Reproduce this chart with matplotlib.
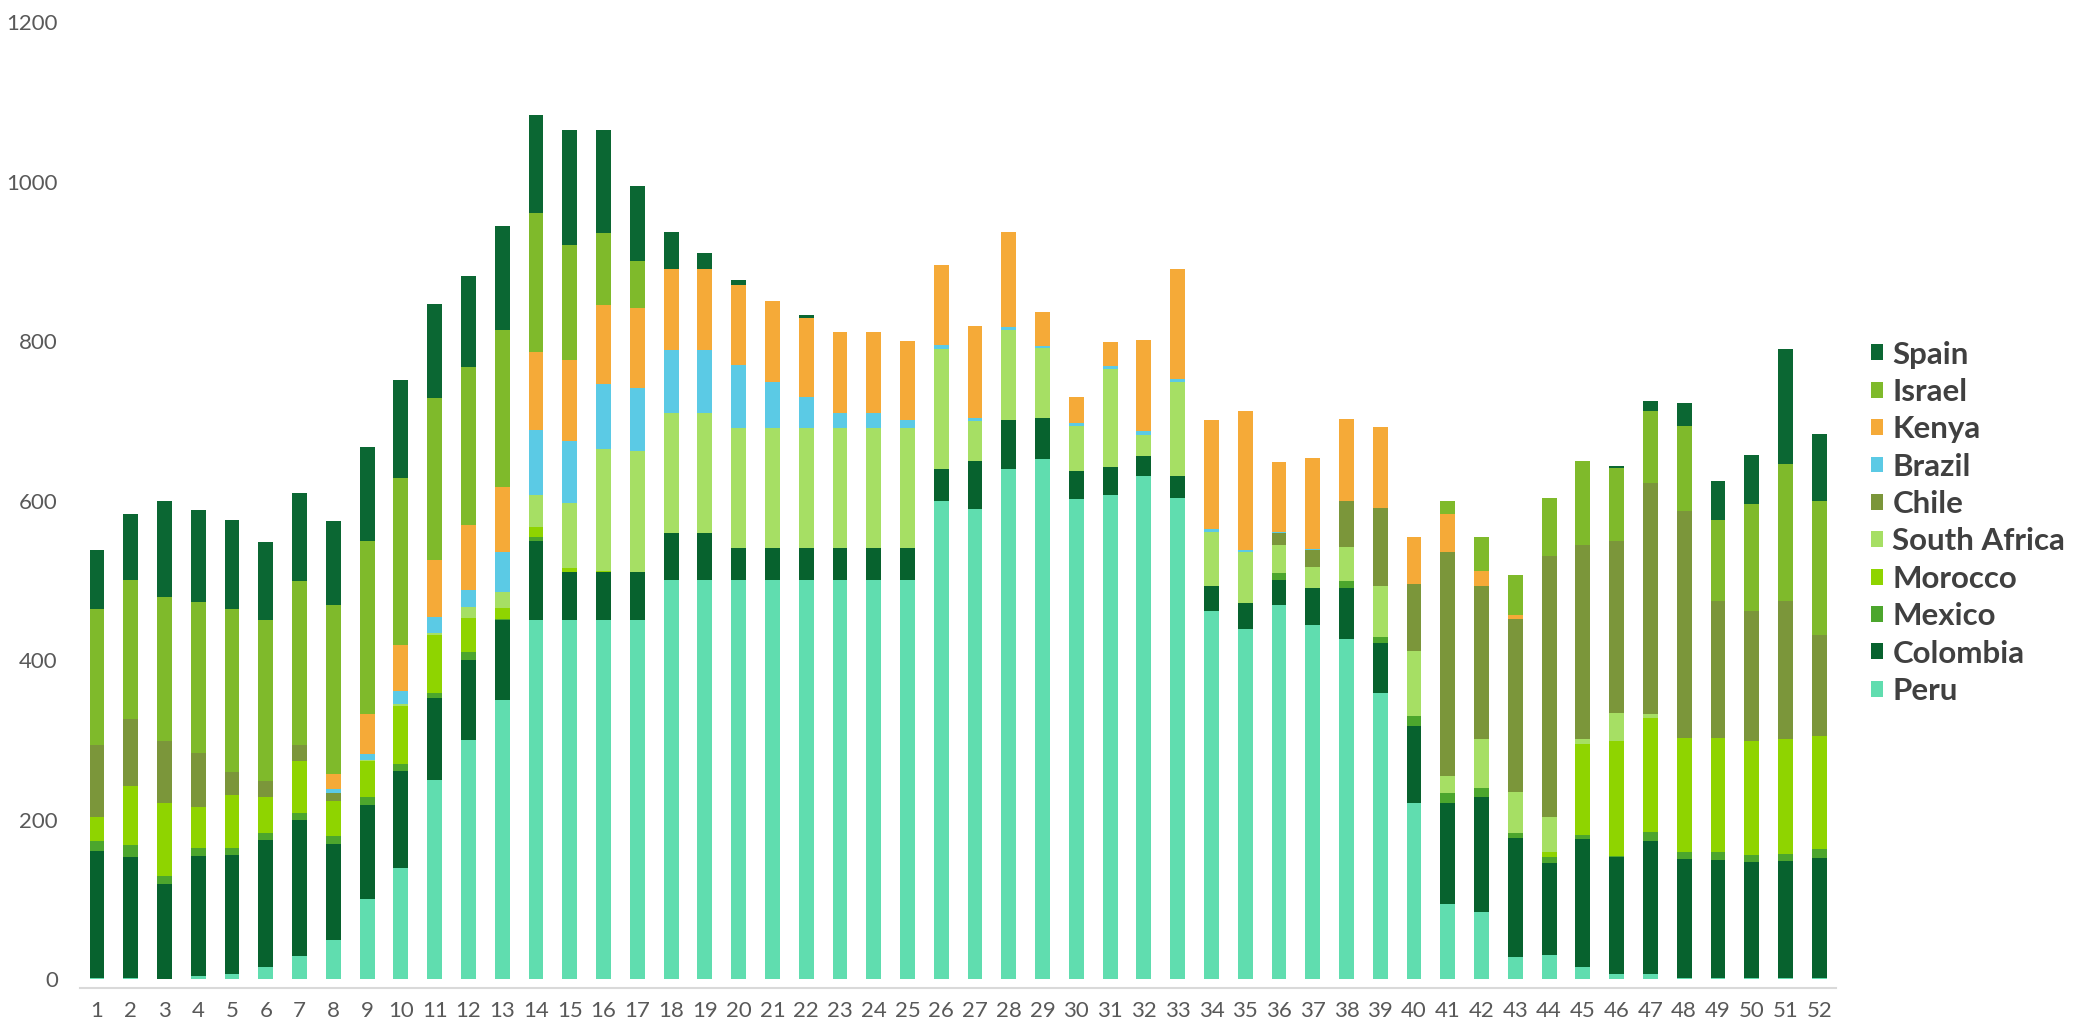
import matplotlib
matplotlib.use("Agg")
import matplotlib.pyplot as plt
import numpy as np

plt.rcParams["font.family"] = ["Lato", "DejaVu Sans"]

weeks = list(range(1, 53))

# values, week 1..52
peru = [1, 2, 0, 4, 6, 15, 29, 49, 100, 140, 250, 300, 350, 450, 450, 450, 450,
        500, 500, 500, 500, 500, 500, 500, 500, 600, 590, 640, 652, 602, 607, 631,
        603, 462, 439, 469, 444, 427, 359, 221, 94, 84, 28, 31, 15, 6, 6, 2, 2, 2, 1, 2]
colombia = [160, 151, 120, 150, 150, 159, 171, 120, 119, 121, 102, 100, 100, 100, 60, 60,
            60, 59, 59, 40, 40, 40, 40, 40, 40, 40, 60, 61, 51, 35, 35, 25, 28, 31, 33,
            31, 47, 63, 63, 97, 127, 144, 149, 115, 161, 147, 167, 149, 148, 145, 147, 150]
mexico = [12, 15, 9, 10, 9, 9, 8, 10, 10, 9, 7, 10, 2, 4, 0, 0, 0, 0, 0, 0, 0, 0, 0, 0,
          0, 0, 0, 0, 0, 0, 0, 0, 0, 0, 0, 9, 0, 9, 7, 12, 12, 12, 6, 7, 5, 2, 11, 8, 9,
          9, 9, 11]
morocco = [30, 74, 92, 52, 66, 45, 66, 45, 44, 73, 73, 43, 14, 13, 5, 2, 0, 0, 0, 0, 0,
           0, 0, 0, 0, 0, 0, 0, 0, 0, 0, 0, 0, 0, 0, 0, 0, 0, 0, 0, 0, 0, 0, 6, 114, 144,
           143, 144, 144, 143, 144, 142]
south_africa = [0, 0, 0, 0, 0, 0, 0, 0, 2, 2, 2, 14, 19, 40, 82, 153, 152, 151, 151, 151,
                151, 151, 151, 151, 151, 150, 50, 113, 88, 57, 123, 26, 118, 68, 63, 35,
                26, 43, 64, 82, 22, 61, 52, 44, 6, 35, 6, 0, 0, 0, 0, 0]
chile = [91, 84, 78, 67, 29, 21, 20, 10, 0, 0, 0, 0, 0, 0, 0, 0, 0, 0, 0, 0, 0, 0, 0, 0,
         0, 0, 0, 0, 0, 0, 0, 0, 0, 0, 0, 16, 21, 57, 98, 84, 280, 192, 217, 327, 244,
         216, 289, 284, 171, 163, 173, 126]
brazil = [0, 0, 0, 0, 0, 0, 0, 4, 7, 16, 20, 21, 51, 81, 78, 81, 79, 79, 79, 79, 58, 39,
          19, 19, 10, 5, 4, 4, 3, 3, 4, 5, 4, 4, 3, 1, 1, 1, 0, 0, 0, 0, 0, 0, 0, 0, 0,
          0, 0, 0, 0, 0]
kenya = [0, 0, 0, 0, 0, 0, 0, 19, 50, 58, 71, 81, 81, 98, 101, 99, 101, 101, 101, 100,
         101, 99, 101, 101, 99, 100, 115, 119, 43, 33, 30, 114, 137, 136, 174, 88, 114,
         102, 101, 58, 48, 19, 5, 0, 0, 0, 0, 0, 0, 0, 0, 0]
israel = [170, 175, 180, 190, 204, 201, 205, 212, 217, 209, 204, 199, 197, 174, 145, 91,
          58, 0, 0, 0, 0, 0, 0, 0, 0, 0, 0, 0, 0, 0, 0, 0, 0, 0, 0, 0, 0, 0, 0, 0, 16,
          42, 50, 73, 105, 91, 90, 106, 102, 134, 172, 168]
spain = [74, 82, 120, 115, 112, 98, 110, 105, 118, 123, 117, 113, 130, 123, 144, 129, 95,
         47, 21, 7, 0, 4, 0, 0, 0, 0, 0, 0, 0, 0, 0, 0, 0, 0, 0, 0, 0, 0, 0, 0, 0, 0, 0,
         0, 0, 3, 13, 30, 49, 61, 144, 84]

series = [
    ("Peru", peru, "#60DDAF"),
    ("Colombia", colombia, "#07622E"),
    ("Mexico", mexico, "#4CA62D"),
    ("Morocco", morocco, "#8FD400"),
    ("South Africa", south_africa, "#A6DF64"),
    ("Chile", chile, "#7B963A"),
    ("Brazil", brazil, "#5BCAE5"),
    ("Kenya", kenya, "#F5AA38"),
    ("Israel", israel, "#7FBA2B"),
    ("Spain", spain, "#0B6733"),
]

fig = plt.figure(figsize=(20.75, 10.19), dpi=100)
ax = fig.add_axes([0.0386, 0.0304, 0.8463, 0.948])

bottom = np.zeros(len(weeks))
handles = []
for name, vals, col in series:
    b = ax.bar(weeks, vals, width=0.44, bottom=bottom, color=col, label=name)
    bottom += np.array(vals)
    handles.append(b)

ax.set_xlim(0.5, 52.5)
ax.set_ylim(-11, 1200)
ax.set_yticks(range(0, 1201, 200))
ax.set_xticks(weeks)
ax.tick_params(axis="both", length=0, labelsize=16, colors="#595959")
ax.tick_params(axis="x", pad=9)
ax.tick_params(axis="y", pad=16)
for s in ["top", "right", "left"]:
    ax.spines[s].set_visible(False)
ax.spines["bottom"].set_color("#D9D9D9")
ax.spines["bottom"].set_linewidth(1.5)

leg = fig.legend(handles[::-1], [s[0] for s in series][::-1],
                 loc="center left", bbox_to_anchor=(0.9015, 0.487),
                 frameon=False, fontsize=22.5, handlelength=0.4, handleheight=0.4,
                 handletextpad=0.3, labelspacing=0.3, borderpad=0, borderaxespad=0)
for t in leg.get_texts():
    t.set_fontweight("bold")
    t.set_color("#404040")

fig.savefig("out.png", dpi=100)
